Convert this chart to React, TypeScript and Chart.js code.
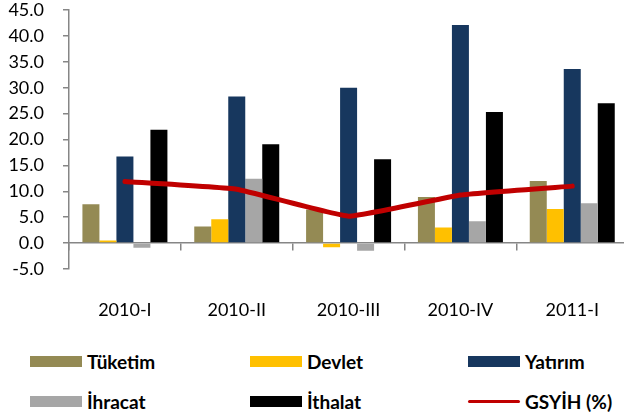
import React, { useEffect, useRef } from "react";
import { Chart, registerables } from "chart.js";

Chart.register(...registerables);

const categories = ["2010-I", "2010-II", "2010-III", "2010-IV", "2011-I"];
const tuketim = [7.5, 3.2, 6.5, 8.9, 12.0];
const devlet = [0.5, 4.6, -0.8, 3.0, 6.6];
const yatirim = [16.7, 28.3, 30.0, 42.1, 33.6];
const ihracat = [-0.9, 12.4, -1.5, 4.2, 7.7];
const ithalat = [21.9, 19.1, 16.2, 25.3, 27.0];
const gsyih = [11.9, 10.4, 5.2, 9.3, 11.0];

const barNames = ["Tüketim", "Devlet", "Yatırım", "İhracat", "İthalat"];
const barSeries = [tuketim, devlet, yatirim, ihracat, ithalat];
const lineName = "GSYİH (%)";

const yMin = -5;
const yMax = 45;
const yStep = 5;

const barColors = ["#948A54", "#FFC000", "#17375E", "#A6A6A6", "#000000"];
const lineColor = "#C00000";
const axisColor = "#868686";
const FONT = "Lato, 'Open Sans', sans-serif";

const legendOrder = [
  { name: barNames[0], color: barColors[0], line: false },
  { name: barNames[1], color: barColors[1], line: false },
  { name: barNames[2], color: barColors[2], line: false },
  { name: barNames[3], color: barColors[3], line: false },
  { name: barNames[4], color: barColors[4], line: false },
  { name: lineName, color: lineColor, line: true },
];

export default function App() {
  const ref = useRef<HTMLCanvasElement | null>(null);

  useEffect(() => {
    document.body.style.margin = "0";
    if (!ref.current) return;
    const datasets: any[] = barSeries.map((data, i) => ({
      type: "bar",
      label: barNames[i],
      data,
      backgroundColor: barColors[i],
      borderWidth: 0,
      categoryPercentage: 0.76,
      barPercentage: 1.0,
      order: 1,
    }));
    datasets.push({
      type: "line",
      label: lineName,
      data: gsyih,
      borderColor: lineColor,
      backgroundColor: lineColor,
      borderWidth: 5,
      pointRadius: 0,
      tension: 0.1,
      borderCapStyle: "round",
      borderJoinStyle: "round",
      order: 0,
    });
    const chart = new Chart(ref.current, {
      type: "bar",
      data: { labels: categories, datasets },
      options: {
        animation: false,
        responsive: true,
        maintainAspectRatio: false,
        layout: { padding: { top: 0, right: 0, bottom: 0, left: 0 } },
        plugins: { legend: { display: false }, tooltip: { enabled: false } },
        scales: {
          x: {
            type: "category",
            position: { y: 0 } as any,
            offset: true,
            z: 1,
            grid: {
              offset: true,
              drawOnChartArea: false,
              drawTicks: true,
              tickLength: 7,
              color: axisColor,
              lineWidth: 1.5,
            },
            border: { display: true, color: axisColor, width: 1.5 },
            ticks: { display: false },
            afterFit: (s: any) => {
              s.height = 0;
            },
          },
          x2: {
            type: "category",
            position: "bottom",
            labels: categories,
            offset: true,
            grid: { display: false, drawTicks: false },
            border: { display: false },
            ticks: {
              padding: 30,
              color: "#000",
              font: { family: FONT, size: 18 },
              maxRotation: 0,
              autoSkip: false,
            },
            afterFit: (s: any) => {
              s.height = 50;
            },
          },
          y: {
            min: yMin,
            max: yMax,
            grid: {
              drawOnChartArea: false,
              drawTicks: true,
              tickLength: 6,
              color: axisColor,
              lineWidth: 1.5,
            },
            border: { display: true, color: axisColor, width: 1.5 },
            ticks: {
              stepSize: yStep,
              autoSkip: false,
              padding: 19,
              color: "#000",
              font: { family: FONT, size: 18 },
              callback: (v: any) => Number(v).toFixed(1),
            },
            afterFit: (s: any) => {
              s.width = 69;
              s.paddingTop = 10;
              s.paddingBottom = 10;
            },
          },
        },
      },
    });
    return () => chart.destroy();
  }, []);

  const colLeft = [30, 250, 468];
  const rowCenter = [361.5, 401.5];

  return (
    <div
      style={{
        position: "fixed",
        left: 0,
        top: 0,
        width: 624,
        height: 416,
        overflow: "hidden",
        background: "#fff",
      }}
    >
      <div style={{ position: "absolute", left: 0, top: 0, width: 629, height: 319 }}>
        <canvas ref={ref} />
      </div>
      {legendOrder.map((item, i) => {
        const r = Math.floor(i / 3);
        const c = i % 3;
        return (
          <div
            key={item.name}
            style={{
              position: "absolute",
              left: colLeft[c],
              top: rowCenter[r] - 10,
              height: 20,
              display: "flex",
              alignItems: "center",
              whiteSpace: "nowrap",
            }}
          >
            <span
              style={{
                display: "inline-block",
                width: 52,
                height: item.line ? 3 : 11,
                background: item.color,
                borderRadius: item.line ? 2 : 0,
                marginRight: 5,
              }}
            />
            <span
              style={{
                fontFamily: FONT,
                fontWeight: 700,
                fontSize: 19,
                lineHeight: "20px",
                color: "#000",
              }}
            >
              {item.name}
            </span>
          </div>
        );
      })}
    </div>
  );
}
